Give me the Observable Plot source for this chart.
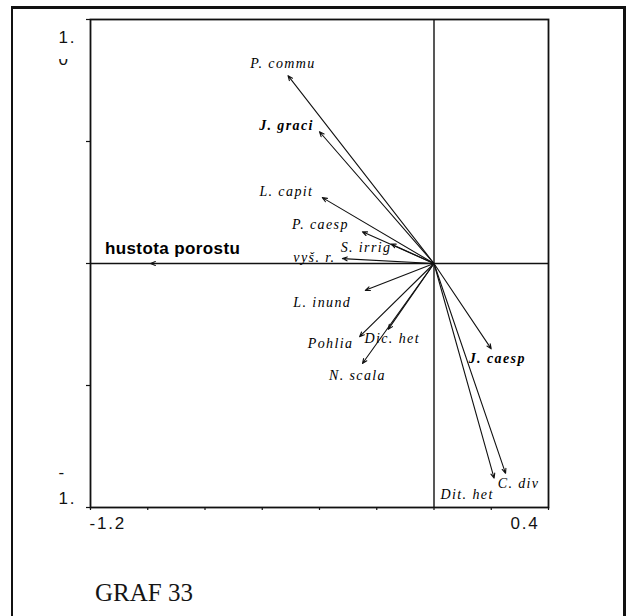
<!DOCTYPE html>
<html><head><meta charset="utf-8">
<script src="https://cdn.jsdelivr.net/npm/d3@7"></script>
<script src="https://cdn.jsdelivr.net/npm/@observablehq/plot@0.6"></script>
<style>
html,body{margin:0;padding:0;background:#fff;}
#wrap{position:relative;width:627px;height:616px;overflow:hidden;background:#fff;}
#chart{position:absolute;left:0;top:0;}
#frame{position:absolute;left:11px;top:6px;width:615px;height:640px;box-sizing:border-box;border-left:2px solid #111;border-top:3px solid #111;border-right:3px solid #111;pointer-events:none;}
#caption{position:absolute;left:95px;top:579px;font-family:"Liberation Serif","Times New Roman",serif;font-size:25px;line-height:normal;color:#151515;}
svg g[font-style="italic"] text{letter-spacing:1.4px;}
svg g[font-family^="Liberation Sans"] text{letter-spacing:1.8px;}
svg g[font-weight="bold"]:not([font-style="italic"]) text{letter-spacing:0.4px;}
</style></head><body>
<div id="wrap"><div id="chart"></div><div id="frame"></div><div id="caption">GRAF 33</div></div>
<script>
// ---- data ----
const species = ["P. commu","J. graci","L. capit","P. caesp","S. irrig","vyš. r.","hustota porostu","L. inund","Pohlia","Dic. het","N. scala","J. caesp","Dit. het","C. div"];
const axis1 = [-0.51,-0.40,-0.39,-0.25,-0.15,-0.32,-0.99,-0.24,-0.26,-0.16,-0.25,0.20,0.21,0.25];
const axis2 = [0.77,0.54,0.27,0.13,0.08,0.02,0.00,-0.11,-0.30,-0.27,-0.41,-0.35,-0.88,-0.86];
const xTicks = [-1.2,-1.0,-0.8,-0.6,-0.4,-0.2,0,0.2,0.4];
const yTicks = [-1,-0.5,0,0.5,1];
const xEndValues = [-1.2, 0.4];
const xEndLabels = ["-1.2", "0.4"];
const yEndValues = [1, -1];
const yEndLabels = [["1.", "0"], ["-", "1."]];

// ---- layout / style (not data) ----
const boldLabels = new Set(["J. graci","J. caesp"]);
const envLabels = new Set(["hustota porostu"]);
const labelNudge = {
  "P. commu":[-5,-12], "J. graci":[-33,-6], "L. capit":[-36,-6], "P. caesp":[-42,-7],
  "S. irrig":[-25,4], "vyš. r.":[-28,-1], "hustota porostu":[22,-15], "L. inund":[-43,12],
  "Pohlia":[-29,7], "Dic. het":[4,9], "N. scala":[-5,12], "J. caesp":[6,10],
  "Dit. het":[-27,16], "C. div":[13,10]
};

const rows = species.map((s,i)=>({name:s, x:axis1[i], y:axis2[i]}));
const serif = "Liberation Serif, Times New Roman, serif";
const sans = "Liberation Sans, Arial, sans-serif";

const labelMarks = rows.map(d => {
  const [dx, dy] = labelNudge[d.name];
  const env = envLabels.has(d.name);
  return Plot.text([d], {
    x:"x", y:"y", text:"name", dx, dy,
    fontFamily: env ? sans : serif,
    fontStyle: env ? "normal" : "italic",
    fontWeight: (env || boldLabels.has(d.name)) ? "bold" : "normal",
    fontSize: env ? 17 : 14,
    fill:"#000"
  });
});

const yLabelRows = [];
yEndValues.forEach((v,i)=>yEndLabels[i].forEach((t,j)=>yLabelRows.push({v, t, j, top: v > 0})));
const yLabelDy = {"true":[17.6,39.6], "false":[-35.4,-9.4]};
const numFont = "Liberation Sans, Helvetica, sans-serif";

const plot = Plot.plot({
  width:627, height:616,
  marginLeft:90, marginRight:79, marginTop:19, marginBottom:109,
  x:{domain:[-1.2,0.4], label:null},
  y:{domain:[-1,1], label:null},
  style:{background:"transparent", color:"#111", overflow:"visible"},
  marks:[
    Plot.ruleX([0], {stroke:"#111", strokeWidth:1.4}),
    Plot.ruleY([0], {stroke:"#111", strokeWidth:1.4}),
    Plot.axisX(xTicks, {tickSize:3, tickFormat:()=>"", label:null, stroke:"#111", strokeWidth:1.2}),
    Plot.axisY(yTicks, {tickSize:4, tickFormat:()=>"", label:null, stroke:"#111", strokeWidth:1.2}),
    Plot.frame({stroke:"#111", strokeWidth:1.8}),
    Plot.arrow(rows, {x1:()=>0, y1:()=>0, x2:"x", y2:"y", stroke:"#111", strokeWidth:1.1, headLength:7, headAngle:45}),
    ...labelMarks,
    Plot.text([0], {x:()=>xEndValues[0], text:()=>xEndLabels[0], frameAnchor:"bottom", dy:21, dx:-1, textAnchor:"start", fontFamily:numFont, fontSize:17, fill:"#111"}),
    Plot.text([1], {x:()=>xEndValues[1], text:()=>xEndLabels[1], frameAnchor:"bottom", dy:21, dx:-9, textAnchor:"end", fontFamily:numFont, fontSize:17, fill:"#111"}),
    ...yLabelRows.map(r => Plot.text([r], {y:"v", text:"t", frameAnchor:"left", dx:-32, dy:yLabelDy[r.top][r.j], textAnchor:"start", fontFamily:numFont, fontSize:17, fill:"#111"}))
  ]
});
document.getElementById("chart").appendChild(plot);

// clip the lower half of the wrapped "0" of the top y label, as in the scan
const svg = d3.select(plot);
const yTop = plot.scale("y").apply(1);
const clipId = "clip-zero";
svg.append("defs").append("clipPath").attr("id", clipId)
  .append("rect").attr("x", 0).attr("y", 0).attr("width", plot.scale("x").apply(-1.2)).attr("height", yTop + 41);
svg.selectAll("text").filter(function(){ return this.textContent === "0"; }).attr("clip-path", `url(#${clipId})`);
</script>
</body></html>
